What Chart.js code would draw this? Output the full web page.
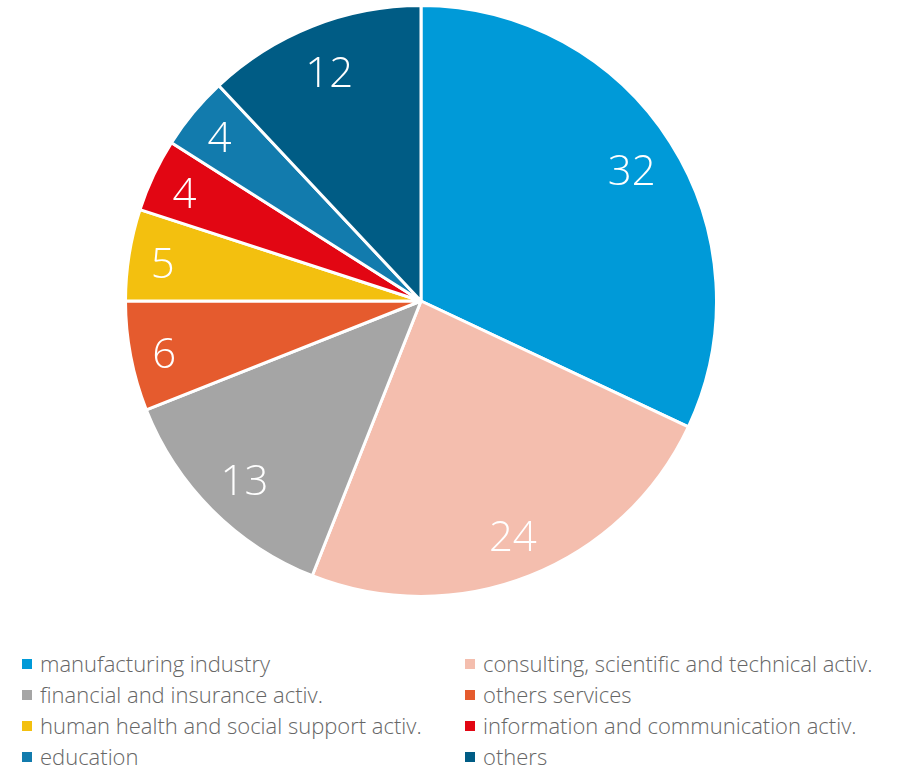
<!DOCTYPE html>
<html>
<head>
<meta charset="utf-8">
<script src="https://cdn.jsdelivr.net/npm/chart.js@4.4.1/dist/chart.umd.min.js"></script>
<style>
  body { margin: 0; background: #fff; width: 905px; height: 768px; position: relative; overflow: hidden; }
  #pieBox { position: absolute; left: 121px; top: 1px; width: 600px; height: 600px; }
  #legend { position: absolute; left: 0; top: 648px; width: 905px; font-family: "Open Sans", sans-serif; font-weight: 300; font-size: 22px; color: #666; }
  .item { position: absolute; height: 31px; line-height: 31px; white-space: nowrap; }
  .item span.box { position: absolute; left: 0; top: 11px; width: 10px; height: 10px; }
  .item span.txt { position: absolute; left: 18px; top: 0; }
</style>
</head>
<body>
<div id="pieBox"><canvas id="myChart" width="600" height="600"></canvas></div>
<div id="legend"></div>
<script>
// shares by sector, clockwise from the top
const sectors = [
	"manufacturing industry",
	"consulting, scientific and technical activ.",
	"financial and insurance activ.",
	"others services",
	"human health and social support activ.",
	"information and communication activ.",
	"education",
	"others"
];
const shares = [32, 24, 13, 6, 5, 4, 4, 12];
const sectorColors = ["#009ad8", "#f4beae", "#a5a5a5", "#e55b2e", "#f3c00f", "#e20613", "#127bad", "#005c85"];

// writes each value inside its slice, pushed toward the outer edge
const sliceLabels = {
	id: "sliceLabels",
	afterDatasetsDraw(chart) {
		let ctx = chart.ctx;
		let meta = chart.getDatasetMeta(0);
		let size = 42;
		ctx.save();
		ctx.fillStyle = "#fff";
		ctx.font = "300 " + size + "px 'Open Sans', sans-serif";
		ctx.textAlign = "center";
		ctx.textBaseline = "alphabetic";
		meta.data.forEach((arc, i) => {
			let p = arc.getProps(["x", "y", "startAngle", "endAngle", "outerRadius"], true);
			let text = String(shares[i]);
			let w = ctx.measureText(text).width;
			let mid = (p.startAngle + p.endAngle) / 2;
			let r = p.outerRadius - 22 - w / 2;
			let cx = p.x + Math.cos(mid) * r;
			let cy = p.y + Math.sin(mid) * r + 3;
			ctx.fillText(text, cx, cy + size * 0.357);
		});
		ctx.restore();
	}
};

function pieChart(id) {
	const data = {
		labels: sectors,
		datasets: [{
			data: shares,
			backgroundColor: sectorColors,
			borderColor: "#fff",
			borderWidth: 3
		}]
	};
	const config = {
		type: "pie",
		data: data,
		options: {
			responsive: false,
			animation: false,
			layout: { padding: 3 },
			plugins: {
				legend: { display: false },
				tooltip: { enabled: false }
			}
		},
		plugins: [sliceLabels]
	};
	let ctx = document.getElementById(id).getContext("2d");
	new Chart(ctx, config);
}

// two-column legend, filled row by row
function buildLegend() {
	let box = document.getElementById("legend");
	sectors.forEach((name, i) => {
		let item = document.createElement("div");
		item.className = "item";
		item.style.left = (i % 2 === 0 ? 22 : 465) + "px";
		item.style.top = (Math.floor(i / 2) * 31) + "px";
		item.innerHTML = '<span class="box" style="background:' + sectorColors[i] + '"></span><span class="txt">' + name + '</span>';
		box.appendChild(item);
	});
}

pieChart("myChart");
buildLegend();
</script>
</body>
</html>
